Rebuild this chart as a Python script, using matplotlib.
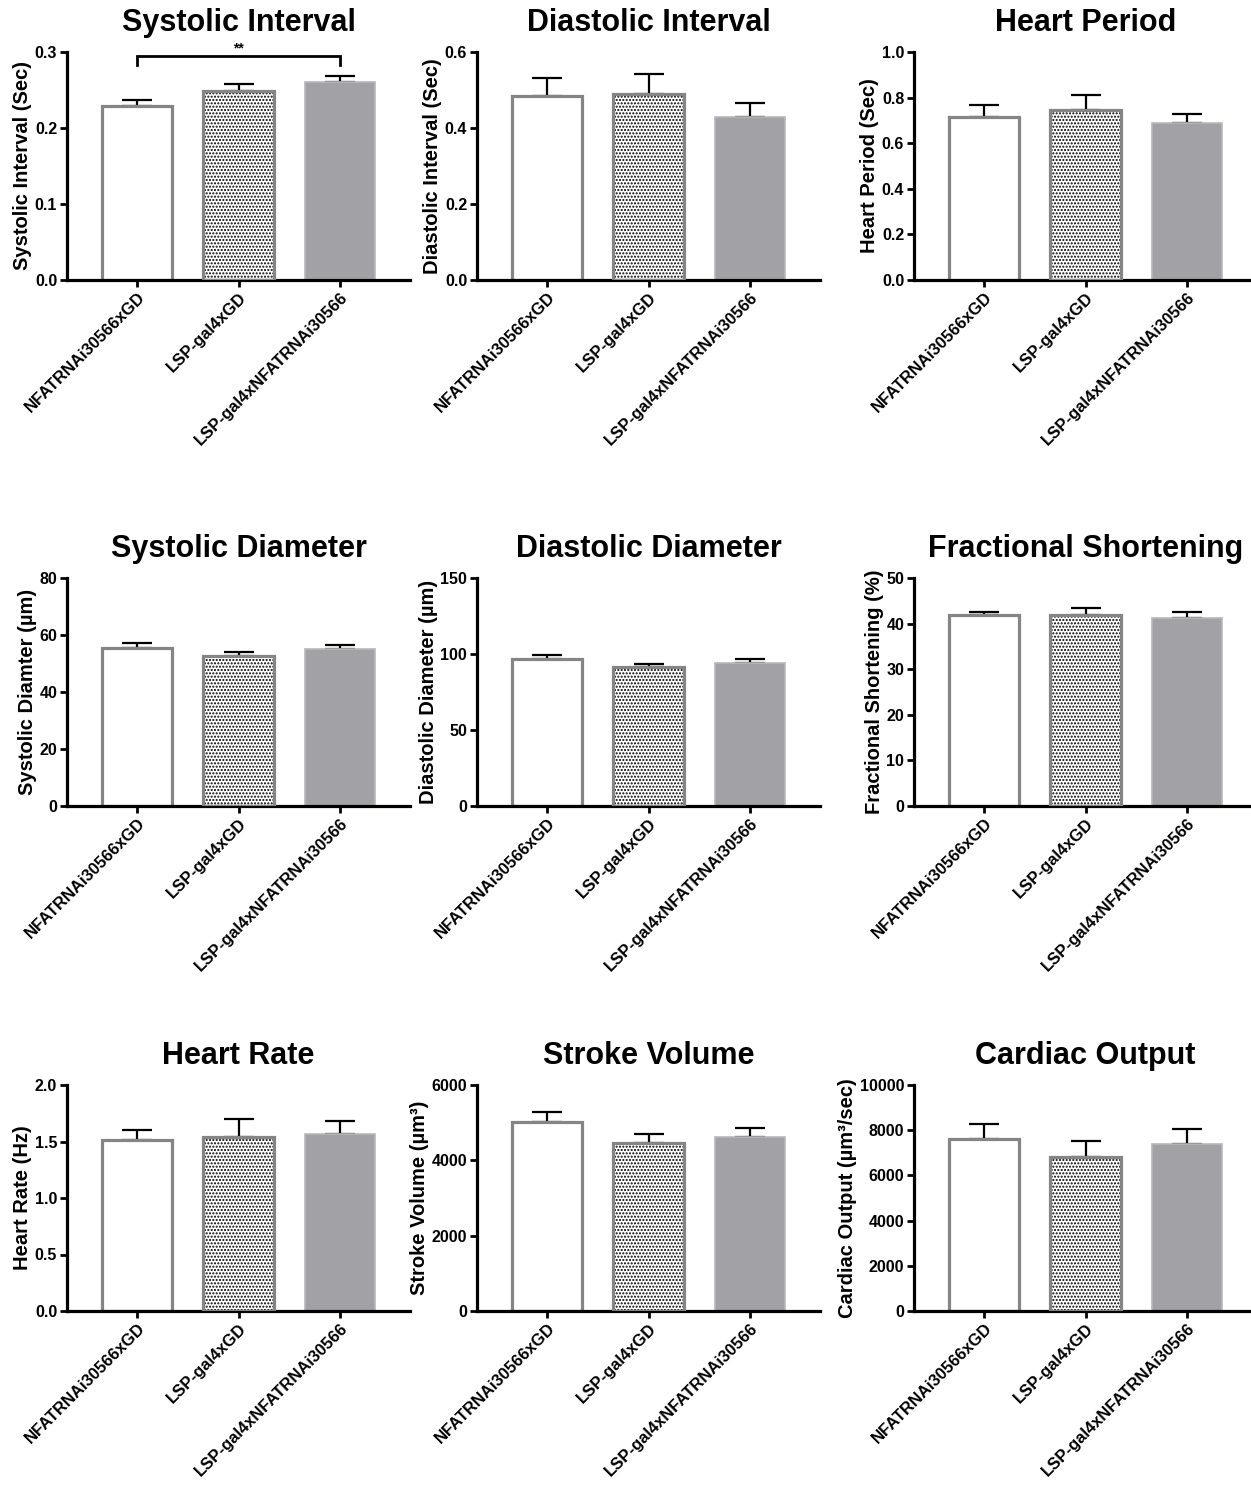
import matplotlib
matplotlib.use("Agg")
import matplotlib.pyplot as plt
from matplotlib.ticker import FormatStrFormatter, MultipleLocator

plt.rcParams['font.family'] = ['Liberation Sans', 'DejaVu Sans']
plt.rcParams['font.weight'] = 'bold'
plt.rcParams['hatch.linewidth'] = 1.0

groups = ["NFATRNAi30566xGD", "LSP-gal4xGD", "LSP-gal4xNFATRNAi30566"]

titles = ["Systolic Interval", "Diastolic Interval", "Heart Period",
          "Systolic Diameter", "Diastolic Diameter", "Fractional Shortening",
          "Heart Rate", "Stroke Volume", "Cardiac Output"]
ylabels = ["Systolic Interval (Sec)", "Diastolic Interval (Sec)", "Heart Period (Sec)",
           "Systolic Diamter (µm)", "Diastolic Diameter (µm)", "Fractional Shortening (%)",
           "Heart Rate (Hz)", "Stroke Volume (µm³)", "Cardiac Output (µm³/sec)"]

systolic_interval = [0.229, 0.249, 0.260]
systolic_interval_err = [0.008, 0.009, 0.008]
diastolic_interval = [0.484, 0.489, 0.428]
diastolic_interval_err = [0.047, 0.053, 0.037]
heart_period = [0.714, 0.744, 0.687]
heart_period_err = [0.053, 0.067, 0.040]
systolic_diameter = [55.3, 52.6, 55.0]
systolic_diameter_err = [1.9, 1.4, 1.5]
diastolic_diameter = [96.5, 91.2, 93.8]
diastolic_diameter_err = [2.6, 2.3, 2.7]
fractional_shortening = [41.8, 41.8, 41.3]
fractional_shortening_err = [0.8, 1.6, 1.3]
heart_rate = [1.515, 1.54, 1.57]
heart_rate_err = [0.085, 0.16, 0.11]
stroke_volume = [5022, 4461, 4621]
stroke_volume_err = [267, 232, 250]
cardiac_output = [7630, 6800, 7392]
cardiac_output_err = [637, 741, 682]

values = [systolic_interval, diastolic_interval, heart_period,
          systolic_diameter, diastolic_diameter, fractional_shortening,
          heart_rate, stroke_volume, cardiac_output]
errors = [systolic_interval_err, diastolic_interval_err, heart_period_err,
          systolic_diameter_err, diastolic_diameter_err, fractional_shortening_err,
          heart_rate_err, stroke_volume_err, cardiac_output_err]
ymax = [0.3, 0.6, 1.0, 80, 150, 50, 2.0, 6000, 10000]
ystep = [0.1, 0.2, 0.2, 20, 50, 10, 0.5, 2000, 2000]
yfmt = ['%.1f', '%.1f', '%.1f', '%d', '%d', '%d', '%.1f', '%d', '%d']

W, H = 1251, 1488
fig = plt.figure(figsize=(W / 100, H / 100), dpi=100)

col_first_tick = [137, 547, 984]
row_top = [52, 578, 1085]
row_bot = [280, 806, 1311]
spacing = 101.5
xl = (-0.69, 2.69)

for i in range(9):
    r, c = divmod(i, 3)
    left = col_first_tick[c] + xl[0] * spacing
    width = (xl[1] - xl[0]) * spacing
    ax = fig.add_axes([left / W, 1 - row_bot[r] / H, width / W, (row_bot[r] - row_top[r]) / H])
    x = [0, 1, 2]
    v = values[i]
    e = errors[i]
    # error bars (upper only)
    ax.errorbar(x, v, yerr=[[0, 0, 0], e], fmt='none', ecolor='black',
                elinewidth=1.6, capsize=11, capthick=1.6, zorder=1)
    bw = 0.69
    ax.bar(x[0], v[0], width=bw, facecolor='white', edgecolor='#858585', linewidth=2.3, zorder=2)
    ax.bar(x[1], v[1], width=bw, facecolor='white', edgecolor='black', hatch='.....', linewidth=0, zorder=2)
    ax.bar(x[1], v[1], width=bw, facecolor='none', edgecolor='#858585', linewidth=2.3, zorder=3)
    ax.bar(x[2], v[2], width=bw, facecolor='#a2a2a6', edgecolor='#b8b8bc', linewidth=1.2, zorder=2)

    ax.set_xlim(*xl)
    ax.set_ylim(0, ymax[i])
    ax.yaxis.set_major_locator(MultipleLocator(ystep[i]))
    ax.yaxis.set_major_formatter(FormatStrFormatter(yfmt[i]))
    ax.set_xticks(x)
    ax.set_xticklabels(groups, rotation=45, ha='right', rotation_mode='anchor',
                       fontsize=12, fontweight='bold')
    for lab in ax.get_yticklabels():
        lab.set_fontsize(11.5)
        lab.set_fontweight('bold')
    ax.spines['top'].set_visible(False)
    ax.spines['right'].set_visible(False)
    ax.spines['left'].set_linewidth(2.3)
    ax.spines['bottom'].set_linewidth(2.3)
    ax.tick_params(axis='both', direction='out', length=5, width=2.0, pad=2)
    ax.set_ylabel(ylabels[i], fontsize=14.5, fontweight='bold', labelpad=2)
    ax.set_title(titles[i], fontsize=22, fontweight='bold', pad=15)

    if i == 0:
        yb = 0.295
        ax.plot([0, 0, 2, 2], [0.283, yb, yb, 0.283], color='black', lw=2.0,
                clip_on=False, zorder=5, solid_joinstyle='miter')
        ax.text(1, yb + 0.001, '**', ha='center', va='bottom', fontsize=10, fontweight='bold')

fig.savefig('out.png', dpi=100)
